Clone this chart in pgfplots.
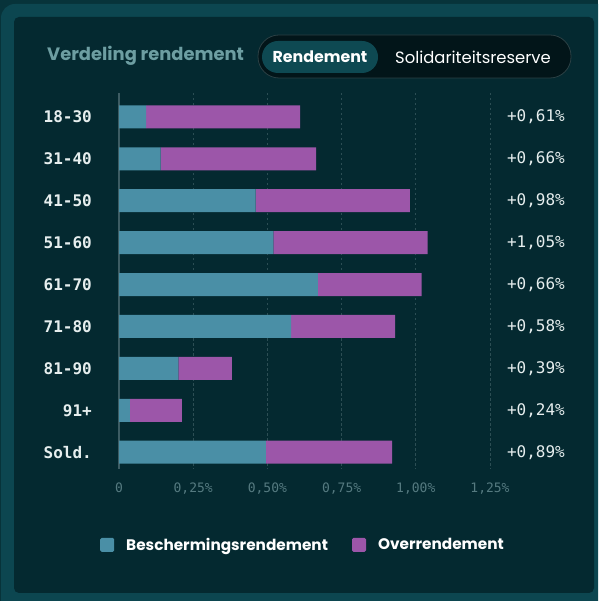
\documentclass[border=0pt]{standalone}
\usepackage{pgfplots}
\pgfplotsset{compat=1.18}
\usepackage{fontspec}
\setmainfont{Poppins}
\newfontfamily\monofont{DejaVu Sans Mono}
\definecolor{outerbg}{HTML}{07333A}
\definecolor{framecol}{HTML}{0C4650}
\definecolor{bgcol}{HTML}{042930}
\definecolor{bluebar}{HTML}{4A8FA6}
\definecolor{purplebar}{HTML}{9C56A9}
\definecolor{gridcol}{HTML}{2C4E54}
\definecolor{axiscol}{HTML}{3D5C63}
\definecolor{titlecol}{HTML}{6D9EA2}
\definecolor{tickcol}{HTML}{557A80}
\definecolor{labcol}{HTML}{E6EEEE}
\definecolor{pillbg}{HTML}{021519}
\definecolor{pillborder}{HTML}{2B4044}
\definecolor{selbg}{HTML}{0E4952}
\tikzset{vallab/.style={anchor=east, inner sep=0pt, xshift=75pt, text=labcol, font=\monofont\fontsize{16}{18}\selectfont}}
\begin{document}
\begin{tikzpicture}[x=1pt,y=1pt]
\useasboundingbox (0,0) rectangle (598,601);
\clip (0,0) rectangle (598,601);
\fill[outerbg] (0,0) rectangle (598,601);
\fill[framecol, rounded corners=14pt] (1,-30) rectangle (630,597);
\fill[bgcol, rounded corners=5pt] (14,8) rectangle (594,584);
% header
\node[anchor=west, text=titlecol, font=\bfseries\fontsize{17.9}{21}\selectfont, inner sep=0pt] at (47,545) {Verdeling rendement};
\draw[fill=pillbg, draw=pillborder, line width=0.8pt, rounded corners=21pt] (258,523) rectangle (571,566);
\fill[selbg, rounded corners=16pt] (262,528) rectangle (378,560);
\node[text=white, font=\bfseries\fontsize{15.8}{18}\selectfont, inner sep=0pt] at (320,544) {Rendement};
\node[text=white, font=\fontsize{16.4}{18}\selectfont, inner sep=0pt] at (473,544) {Solidariteitsreserve};
\begin{axis}[
  at={(119pt,508pt)}, anchor=north west,
  scale only axis, width=371pt, height=376pt,
  xmin=0, xmax=1.25, ymin=-0.57, ymax=8.4,
  y dir=reverse, clip=false,
  xbar stacked, bar width=23pt,
  axis line style={draw=none},
  major tick length=0pt,
  xtick={0,0.25,0.5,0.75,1,1.25},
  xticklabels={0,{0,25\%},{0,50\%},{0,75\%},{1,00\%},{1,25\%}},
  ytick={0,1,2,3,4,5,6,7,8},
  yticklabels={18-30,31-40,41-50,51-60,61-70,71-80,81-90,91+,Sold.},
  xmajorgrids,
  grid style={gridcol, line width=0.8pt, dash pattern=on 2.5pt off 2.5pt},
  yticklabel style={anchor=east, inner sep=0pt, xshift=-27pt, text=labcol, font=\monofont\bfseries\fontsize{16}{18}\selectfont},
  xticklabel style={anchor=north, inner sep=0pt, yshift=-14pt, text=tickcol, font=\monofont\fontsize{13}{15}\selectfont},
  legend columns=2,
  legend style={at={(0.496,-0.202)}, anchor=center, draw=none, fill=none,
    font=\bfseries\fontsize{15.3}{18}\selectfont, text=white,
    /tikz/every odd column/.append style={column sep=10pt},
    /tikz/every even column/.append style={column sep=22pt}},
  legend image code/.code={\fill[#1, draw=none, rounded corners=1.5pt] (0pt,-7pt) rectangle (14pt,7pt);},
]
\addplot[fill=bluebar, draw=none] coordinates {(0.091,0) (0.14,1) (0.46,2) (0.52,3) (0.67,4) (0.58,5) (0.20,6) (0.037,7) (0.495,8)};
\addplot[fill=purplebar, draw=none] coordinates {(0.519,0) (0.524,1) (0.52,2) (0.52,3) (0.35,4) (0.35,5) (0.18,6) (0.175,7) (0.425,8)};
\legend{Beschermingsrendement, Overrendement}
\draw[axiscol, line width=1.5pt] (axis cs:0,-0.57) -- (axis cs:0,8.4);
\node[vallab] at (axis cs:1.25,0) {+0,61\%};
\node[vallab] at (axis cs:1.25,1) {+0,66\%};
\node[vallab] at (axis cs:1.25,2) {+0,98\%};
\node[vallab] at (axis cs:1.25,3) {+1,05\%};
\node[vallab] at (axis cs:1.25,4) {+0,66\%};
\node[vallab] at (axis cs:1.25,5) {+0,58\%};
\node[vallab] at (axis cs:1.25,6) {+0,39\%};
\node[vallab] at (axis cs:1.25,7) {+0,24\%};
\node[vallab] at (axis cs:1.25,8) {+0,89\%};
\end{axis}
\end{tikzpicture}
\end{document}
